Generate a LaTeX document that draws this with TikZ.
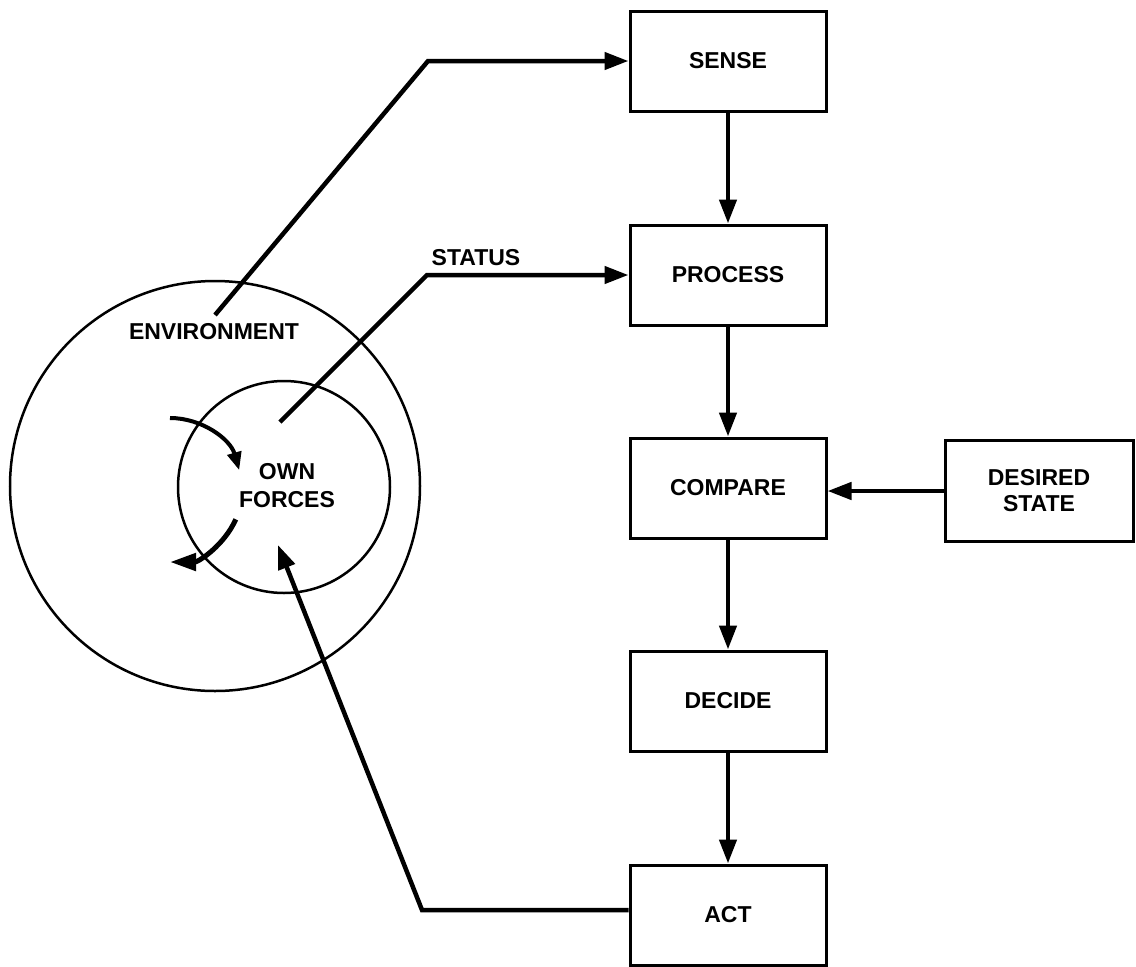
\documentclass[tikz,border=0pt]{standalone}
\usepackage{fontspec}
\setmainfont{Liberation Sans}
\usetikzlibrary{arrows.meta}
\begin{document}
\begin{tikzpicture}[x=1pt,y=-1pt,
  box/.style={draw, line width=3pt, minimum width=196pt, minimum height=100pt, inner sep=0pt, align=center, font=\fontsize{23}{26}\selectfont\bfseries},
  lbl/.style={inner sep=0pt, align=center, font=\fontsize{23}{28}\selectfont\bfseries},
  conn/.style={line width=4.5pt, -{Triangle[length=24pt,width=17pt]}},
  ring/.style={draw, circle, line width=2.5pt, inner sep=0pt},
  curvA/.style={line width=4pt, -{Triangle[length=18pt,width=14pt]}},
  curvB/.style={line width=5pt, -{Triangle[length=26pt,width=17pt]}}]
\useasboundingbox (0,0) rectangle (1136,967);
% circles
\node[ring, minimum size=410pt] (env) at (215,486) {};
\node[ring, minimum size=212pt] (own) at (284,487) {};
\node[lbl] (envtxt) at (214,332) {ENVIRONMENT};
\node[lbl] (owntxt) at (287,486) {OWN\\FORCES};
% boxes
\node[box] (sense) at (728,61) {SENSE};
\node[box] (proc) at (728,275) {PROCESS};
\node[box] (comp) at (728,488) {COMPARE};
\node[box] (dec) at (728,701) {DECIDE};
\node[box] (act) at (728,915) {ACT};
\node[box, minimum width=188pt, minimum height=101pt] (des) at (1039,491) {DESIRED\\STATE};
% vertical flow
\draw[conn] (sense) -- (proc);
\draw[conn] (proc) -- (comp);
\draw[conn] (comp) -- (dec);
\draw[conn] (dec) -- (act);
\draw[conn] (des.west) -- (des.west -| comp.east);
% environment to sense
\coordinate (e1) at (215,315);
\coordinate (k1) at (428,61);
\draw[conn] (e1) -- (k1) -- (sense.west);
% own forces status to process
\coordinate (s1) at (280,422);
\coordinate (k2) at (427,275);
\draw[conn] (s1) -- (k2) -- (proc.west);
\node[lbl] (status) at (476,258) {STATUS};
% act back to own forces
\coordinate (k3) at (422,910);
\coordinate (a1) at (278,545);
\draw[conn] ([yshift=5pt]act.west) -- (k3) -- (a1);
% circulating arrows
\draw[curvA] (170,418) arc[start angle=-90, end angle=-16, radius=72];
\draw[curvB] (235.8,519.3) arc[start angle=24, end angle=90, radius=72];
\end{tikzpicture}
\end{document}
